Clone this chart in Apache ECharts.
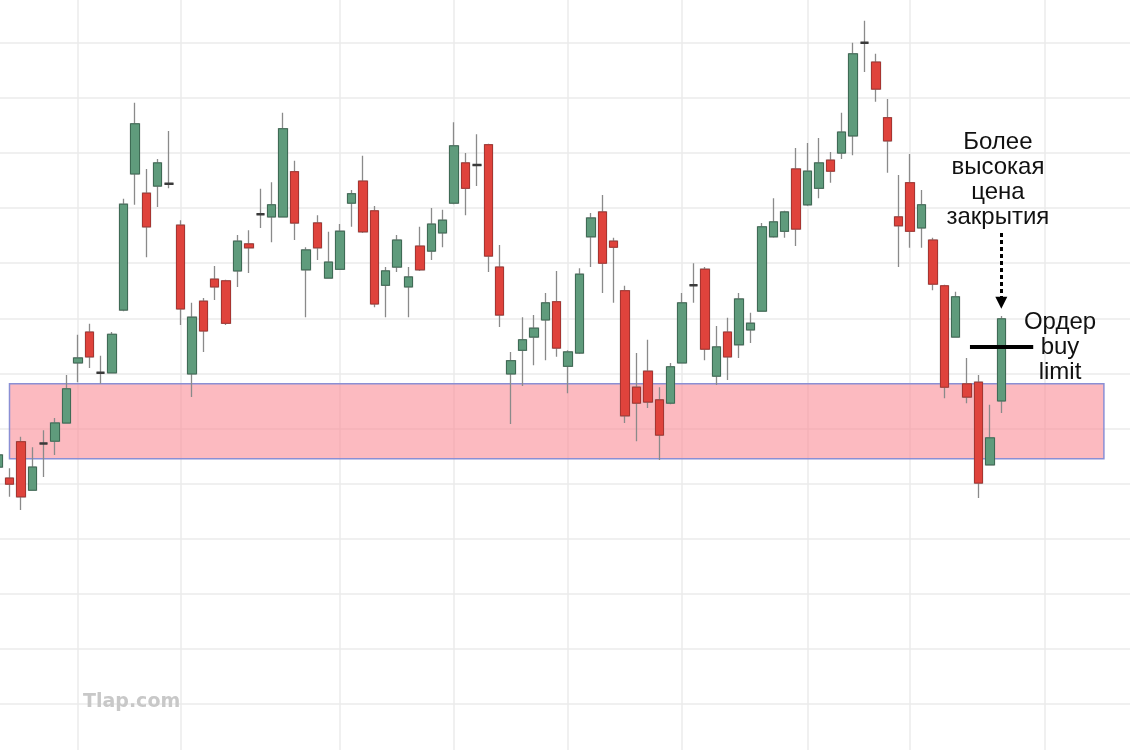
<!DOCTYPE html>
<html><head><meta charset="utf-8">
<script src="https://cdn.jsdelivr.net/npm/echarts@6/dist/echarts.min.js"></script>
<style>html,body{margin:0;padding:0;background:#fff}#c{width:1130px;height:750px}</style>
</head><body><div id="c"></div><script>
// ---- data (price units) ----
const opens  = [153.0,151.0,157.6,148.8,157.3,157.7,161.0,171.9,177.5,170.1,170.1,181.5,206.2,202.7,204.0,204.4,196.9,169.9,183.1,187.1,186.8,188.6,193.5,198.9,198.4,198.4,206.6,188.8,197.3,187.3,188.9,200.9,204.9,199.5,186.0,189.3,185.7,193.1,192.2,195.5,200.9,208.2,207.8,211.5,189.3,169.9,174.2,176.6,179.7,183.0,171.3,173.7,194.8,199.3,194.0,185.0,167.5,170.4,165.2,164.6,171.9,186.0,188.9,169.5,177.5,175.2,177.9,181.3,194.8,195.8,207.1,200.6,203.6,208.7,210.0,213.1,230.0,226.5,216.4,198.4,204.6,196.4,194.2,185.9,176.6,168.1,168.4,153.4,165.0];
const closes = [155.2,149.9,147.6,153.0,157.3,161.0,167.2,172.8,173.0,170.1,177.1,200.7,215.3,196.6,208.2,204.4,181.7,180.2,177.7,185.7,179.1,194.0,192.8,198.9,200.6,214.4,197.3,192.4,192.8,190.2,195.8,202.6,195.7,182.6,188.6,194.2,187.5,188.8,197.1,197.8,211.3,203.6,207.8,191.3,180.6,172.3,176.1,178.2,182.8,174.6,173.9,188.0,198.2,190.0,192.9,162.3,164.6,164.8,158.8,171.2,182.8,186.0,174.4,174.8,173.0,183.5,179.1,196.6,197.5,199.3,196.2,206.7,208.2,206.7,213.8,228.0,230.0,221.6,212.2,196.8,195.8,200.6,186.2,167.5,183.9,165.7,150.1,158.3,179.9];
const lows   = [152.5,147.6,145.2,148.7,151.2,155.2,161.0,168.4,171.0,168.1,170.1,181.3,200.6,191.1,200.2,203.6,178.8,165.7,173.9,183.3,178.8,185.7,188.2,196.4,193.8,198.4,194.2,180.2,190.6,187.3,188.9,196.6,195.5,182.0,180.2,188.4,180.2,188.6,190.6,192.9,200.7,198.7,204.0,188.4,178.4,160.8,167.7,171.5,172.4,173.0,166.4,173.5,189.3,184.6,182.8,161.0,157.7,163.7,154.3,164.4,171.9,182.8,172.4,167.9,168.8,172.8,175.5,181.3,194.6,194.6,193.1,200.4,201.8,204.6,208.9,209.6,224.7,219.3,206.4,189.3,192.8,192.8,185.1,165.5,176.6,164.6,147.4,153.4,162.8];
const highs  = [156.1,152.8,158.5,156.6,159.7,161.9,169.7,177.0,179.0,173.2,177.5,201.7,219.1,207.1,208.9,214.0,197.8,182.8,183.7,189.5,187.0,195.1,196.0,203.5,204.7,217.3,208.6,192.9,198.7,195.7,197.1,203.3,209.5,200.4,189.3,195.1,189.3,196.6,200.0,199.7,215.6,210.0,213.4,211.7,193.3,173.9,180.2,180.6,184.6,188.6,174.2,189.1,199.1,202.4,194.6,185.9,173.7,176.1,167.5,171.9,184.6,190.0,189.3,178.6,180.1,184.6,181.0,197.3,201.8,199.5,210.9,211.8,212.7,210.2,217.3,230.0,234.0,228.0,219.8,206.0,209.8,203.3,194.6,186.1,184.8,172.8,169.7,164.3,180.4];
const categoryCount = 100;
const categories = Array.from({length: categoryCount}, (_, i) => 'Бар ' + (i + 1));
const vGridAt = [7, 16, 30, 40, 50, 60, 71, 80, 91.8];     // vertical grid lines (bar index)
const zoneFrom = [1, 168.1], zoneTo = [97, 154.5];          // support zone
const buyLimitPrice = 174.8, buyLimitSpan = [85.25, 90.8];
const arrowAt = 88, arrowFrom = 195.5, arrowTo = 182.8;
const closeLabel = {at: [87.7, 205.1], text: 'Более\nвысокая\nцена\nзакрытия'};
const orderLabel = {at: [93.15, 174.8], text: 'Ордер\nbuy\nlimit'};

// ---- build ----
const wickData = opens.map((o, i) => [o, closes[i], lows[i], highs[i]]);
const bodyData = opens.map((o, i) => {
  const c = closes[i];
  const item = {value: [o, c, Math.min(o, c), Math.max(o, c)]};
  if (o === c) item.itemStyle = {borderWidth: 2.5, borderColor: '#3a3a3a', borderColor0: '#3a3a3a', borderColorDoji: '#3a3a3a', color: '#3a3a3a', color0: '#3a3a3a'};
  return item;
});
const GRID = '#ebebeb';
const chart = echarts.init(document.getElementById('c'), null, {renderer: 'canvas'});
chart.setOption({
  animation: false,
  backgroundColor: '#ffffff',
  grid: {left: -7.6, width: 1140, top: -12.3, height: 771.4, containLabel: false, outerBoundsMode: 'none'},
  xAxis: [
    {type: 'category', data: categories, boundaryGap: true, show: true,
     axisLine: {show: false}, axisTick: {show: false}, axisLabel: {show: false}, splitLine: {show: false}},
    {type: 'value', min: -0.5, max: categoryCount - 0.5, show: false}
  ],
  yAxis: {type: 'value', min: 100, max: 240, interval: 10, scale: true,
    axisLine: {show: false}, axisTick: {show: false}, axisLabel: {show: false},
    splitLine: {show: true, lineStyle: {color: GRID, width: 1.5}}},
  graphic: [{type: 'text', left: 83, top: 693, z: 10,
    style: {text: 'Tlap.com', fill: '#c8c8c8', font: 'bold 19px "DejaVu Sans"'}}],
  series: [
    {type: 'line', xAxisIndex: 1, yAxisIndex: 0, data: [], silent: true, symbol: 'none',
     markLine: {silent: true, z: 0, symbol: ['none', 'none'], label: {show: false},
       lineStyle: {color: GRID, width: 1.5, type: 'solid'},
       data: vGridAt.map(v => ({xAxis: v}))},
     markArea: {silent: true, z: 1, label: {show: false},
       itemStyle: {color: 'rgba(250,140,150,0.6)', borderColor: '#8a8fd4', borderWidth: 1.5},
       data: [[{coord: zoneFrom}, {coord: zoneTo}]]}},
    {type: 'candlestick', name: 'wick', data: wickData, barWidth: 9, silent: true, z: 2,
     itemStyle: {color: '#8a8a8a', color0: '#8a8a8a', borderColor: '#8a8a8a', borderColor0: '#8a8a8a', borderColorDoji: '#8a8a8a', borderWidth: 1.3}},
    {type: 'candlestick', name: 'body', data: bodyData, barWidth: 9, silent: true, z: 3,
     itemStyle: {color: '#5f9b7c', color0: '#df433c', borderColor: '#3e6b55', borderColor0: '#a83430', borderColorDoji: '#3a3a3a', borderWidth: 1}},
    {type: 'line', xAxisIndex: 1, yAxisIndex: 0, data: [], silent: true, symbol: 'none', z: 5,
     markLine: {silent: true, z: 6, label: {show: false}, symbol: ['none', 'none'],
       data: [
         [{coord: [buyLimitSpan[0], buyLimitPrice], lineStyle: {color: '#000', width: 4, type: 'solid'}},
          {coord: [buyLimitSpan[1], buyLimitPrice]}],
         [{coord: [arrowAt, arrowFrom], symbol: 'none', lineStyle: {color: '#000', width: 3, type: [4, 3]}},
          {coord: [arrowAt, arrowTo], symbol: 'triangle', symbolSize: [12, 12]}]
       ]},
     markPoint: {silent: true, z: 6, symbol: 'circle', symbolSize: 0,
       label: {show: true, position: 'inside', color: '#111', fontSize: 24, lineHeight: 25,
         fontFamily: '"Liberation Sans", Arial, sans-serif', align: 'center', verticalAlign: 'middle'},
       data: [
         {coord: closeLabel.at, value: 0, label: {formatter: closeLabel.text}},
         {coord: orderLabel.at, value: 0, label: {formatter: orderLabel.text}}
       ]}}
  ]
});
</script></body></html>
